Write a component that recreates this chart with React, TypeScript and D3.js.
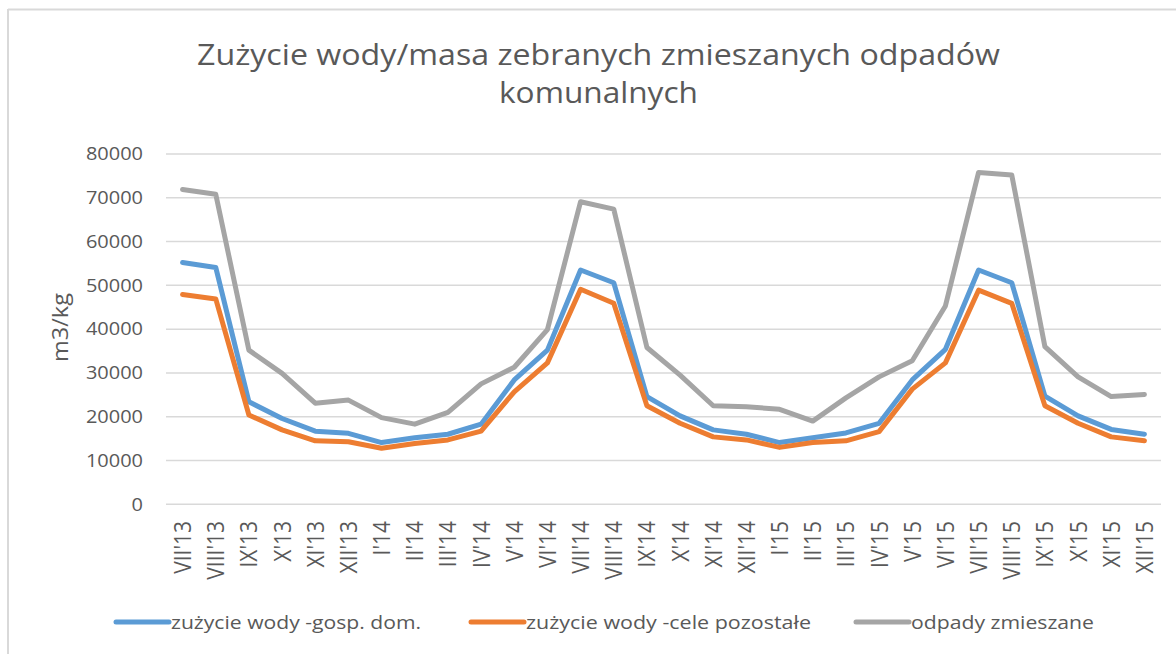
import React from "react";
import * as d3 from "d3";

const categories = ["VII'13","VIII'13","IX'13","X'13","XI'13","XII'13","I'14","II'14","III'14","IV'14","V'14","VI'14","VII'14","VIII'14","IX'14","X'14","XI'14","XII'14","I'15","II'15","III'15","IV'15","V'15","VI'15","VII'15","VIII'15","IX'15","X'15","XI'15","XII'15"];

const wodaGospDom = [55200, 54100, 23400, 19600, 16700, 16200, 14100, 15200, 16000, 18300, 28400, 35200, 53500, 50600, 24600, 20200, 17000, 16000, 14100, 15200, 16300, 18500, 28400, 35400, 53500, 50600, 24700, 20200, 17100, 16000];
const wodaCelePozostale = [47900, 46900, 20400, 17000, 14500, 14300, 12800, 13900, 14700, 16700, 25700, 32300, 49100, 45900, 22500, 18500, 15400, 14700, 13000, 14100, 14500, 16600, 26300, 32300, 48900, 45900, 22500, 18500, 15400, 14500];
const odpadyZmieszane = [71900, 70800, 35200, 29900, 23100, 23800, 19800, 18300, 21000, 27500, 31300, 39900, 69100, 67400, 35800, 29500, 22500, 22300, 21700, 19000, 24300, 29100, 32800, 45300, 75800, 75200, 36000, 29100, 24600, 25100];

const yTicks = [0, 10000, 20000, 30000, 40000, 50000, 60000, 70000, 80000];

const seriesNames = ["zużycie wody -gosp. dom.", "zużycie wody -cele pozostałe", "odpady zmieszane"];
const seriesColors = ["#5B9BD5", "#ED7D31", "#A5A5A5"];
const titleLines = ["Zużycie wody/masa zebranych zmieszanych odpadów", "komunalnych"];
const yTitle = "m3/kg";

export default function App() {
  const W = 1176, H = 654;
  const left = 166, right = 1161, top = 154, bottom = 504.3;
  const x = d3.scaleBand<string>().domain(categories).range([left, right]);
  const cx = (c: string) => (x(c) as number) + x.bandwidth() / 2;
  const y = d3.scaleLinear().domain([0, 80000]).range([bottom, top]);
  const line = d3.line<number>().x((_, i) => cx(categories[i])).y((v) => y(v));
  const series = [odpadyZmieszane, wodaGospDom, wodaCelePozostale];
  const seriesIdx = [2, 0, 1];
  const font = "'Open Sans', sans-serif";
  const textColor = "#595959";
  const legendX = [114, 469, 854];
  const legendTextLen = [250, 285, 183];
  const titleLen = [803, 199];

  return (
    <svg width={W} height={H} style={{ position: "absolute", left: 0, top: 0, background: "#fff" }} fontFamily={font}>
      <rect x={0} y={0} width={W} height={H} fill="#fff" />
      <line x1={8} y1={9.5} x2={W} y2={9.5} stroke="#d9d9d9" strokeWidth={2} />
      <line x1={8} y1={9} x2={8} y2={H} stroke="#d9d9d9" strokeWidth={2} />
      {titleLines.map((t, i) => (
        <text key={t} x={598.5} y={65 + i * 38} textAnchor="middle" fontSize={30} fill={textColor}
          textLength={titleLen[i]} lengthAdjust="spacingAndGlyphs">{t}</text>
      ))}
      {yTicks.map((t) => (
        <g key={t}>
          <line x1={left} x2={right} y1={y(t)} y2={y(t)} stroke="#d9d9d9" strokeWidth={1.5} />
          <g transform={`translate(143,${y(t)}) scale(1.11,1)`}>
            <text x={0} y={0} dy="0.35em" textAnchor="end" fontSize={18} fill={textColor}>{t}</text>
          </g>
        </g>
      ))}
      <text transform={`translate(68,327.5) rotate(-90)`} textAnchor="middle" fontSize={21} fill={textColor}
        textLength={69} lengthAdjust="spacingAndGlyphs">{yTitle}</text>
      {categories.map((c) => (
        <g key={c} transform={`translate(${cx(c)},521) rotate(-90) scale(1,1.15)`}>
          <text x={0} y={0} textAnchor="end" dy="0.35em" fontSize={21} fill={textColor}>{c}</text>
        </g>
      ))}
      {series.map((s, k) => (
        <path key={k} d={line(s) as string} fill="none" stroke={seriesColors[seriesIdx[k]]} strokeWidth={5} strokeLinejoin="round" strokeLinecap="round" />
      ))}
      {seriesNames.map((n, i) => (
        <g key={n}>
          <line x1={legendX[i] + 2} x2={legendX[i] + 55} y1={622} y2={622} stroke={seriesColors[i]} strokeWidth={5} strokeLinecap="round" />
          <text x={legendX[i] + 57} y={622} dy="0.35em" fontSize={19} fill={textColor}
            textLength={legendTextLen[i]} lengthAdjust="spacingAndGlyphs">{n}</text>
        </g>
      ))}
    </svg>
  );
}
